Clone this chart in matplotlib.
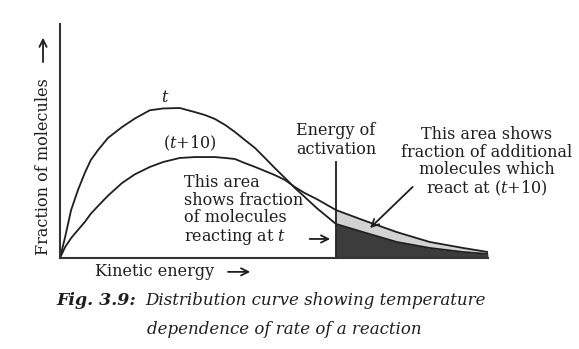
import matplotlib.pyplot as plt

plt.rcParams["font.family"] = "DejaVu Serif"
plt.rcParams["mathtext.fontset"] = "dejavuserif"

# values (arbitrary units)
energy = [0, 1.2, 2.6, 4.2, 5.8, 7.2, 8.9, 11.2, 14.5, 17.5, 21.0, 24.1, 28.0, 31.5, 33.9,
          36.2, 38.6, 40.9, 43.2, 45.6, 47.9, 50.2, 52.6, 54.9, 57.2, 60.0, 64.5, 70.8,
          78.7, 86.4, 94.2, 100]
frac_t = [0, 14.0, 32.0, 45.3, 56.7, 65.3, 72.0, 80.0, 87.3, 93.0, 98.5, 99.7, 100.0, 97.3,
          95.3, 92.7, 88.7, 84.0, 78.7, 73.3, 66.7, 60.0, 53.3, 46.7, 40.7, 33.3, 22.7,
          17.3, 10.7, 6.7, 4.0, 2.7]
frac_t10 = [0, 7.3, 13.3, 18.7, 24.0, 29.5, 34.7, 41.5, 50.0, 55.8, 60.7, 64.0, 66.7, 67.3,
            67.3, 67.3, 66.7, 66.0, 63.3, 60.7, 58.0, 55.3, 52.0, 47.3, 43.3, 39.3, 32.0,
            25.3, 17.3, 10.7, 6.7, 4.0]
e_act = 64.5
e_act_top = 64

ink = "#1e1e1e"

fig = plt.figure(figsize=(5.79, 3.49), dpi=100)
ax = fig.add_axes([0.1036, 0.2607, 0.739, 0.6705])

# shaded tails beyond the activation energy
tail = [i for i, e in enumerate(energy) if e >= e_act]
ex = [energy[i] for i in tail]
ax.fill_between(ex, 0, [frac_t[i] for i in tail], color="#3c3c3c", lw=0)
ax.fill_between(ex, [frac_t[i] for i in tail], [frac_t10[i] for i in tail],
                color="#d2d2d2", lw=0)

ax.plot(energy, frac_t, color=ink, lw=1.3)
ax.plot(energy, frac_t10, color=ink, lw=1.3)
ax.plot([e_act, e_act], [0, e_act_top], color=ink, lw=1.3)

ax.set_xlim(0, 100)
ax.set_ylim(0, 156)
ax.spines["top"].set_visible(False)
ax.spines["right"].set_visible(False)
for s in ("left", "bottom"):
    ax.spines[s].set_color("#333333")
    ax.spines[s].set_linewidth(1.5)
ax.set_xticks([])
ax.set_yticks([])

fs = 11.5
ax.text(24.5, 107, "$t$", fontsize=fs, ha="center", va="center", color=ink)
ax.text(30.4, 76.7, "($t$+10)", fontsize=fs, ha="center", va="center", color=ink)
ax.text(64.5, 78.7, "Energy of\nactivation", fontsize=fs, ha="center",
        va="center", linespacing=1.1, color=ink)
ax.text(99.8, 64, "This area shows\nfraction of additional\nmolecules which\nreact at ($t$+10)",
        fontsize=fs, ha="center", va="center", linespacing=1.05, color=ink)
ax.text(29, 31.7, "This area\nshows fraction\nof molecules\nreacting at $t$",
        fontsize=fs, ha="left", va="center", linespacing=1.05, color=ink)

arrow = dict(arrowstyle="->", color=ink, lw=1.3, mutation_scale=13)
ax.annotate("", xy=(63.8, 12.7), xytext=(57.7, 12.7), arrowprops=arrow)
ax.annotate("", xy=(72, 18.7), xytext=(82.9, 48.7), arrowprops=arrow)

# axis labels with arrows
fig.text(0.0743, 0.523, "Fraction of molecules", rotation=90, fontsize=fs,
         ha="center", va="center", color=ink)
ax.annotate("", xy=(0.0743, 0.90), xytext=(0.0743, 0.814), xycoords="figure fraction",
            textcoords="figure fraction", arrowprops=arrow, annotation_clip=False)
fig.text(0.164, 0.221, "Kinetic energy", fontsize=fs, ha="left", va="center", color=ink)
ax.annotate("", xy=(0.437, 0.221), xytext=(0.389, 0.221), xycoords="figure fraction",
            textcoords="figure fraction", arrowprops=arrow, annotation_clip=False)

# caption
fig.text(0.098, 0.126, "Fig. 3.9:", fontsize=12.5, fontweight="bold", style="italic",
         ha="left", va="baseline", color=ink)
fig.text(0.2504, 0.126, "Distribution curve showing temperature", fontsize=12,
         style="italic", ha="left", va="baseline", color=ink)
fig.text(0.254, 0.043, "dependence of rate of a reaction", fontsize=12,
         style="italic", ha="left", va="baseline", color=ink)

fig.savefig("out.png", dpi=100)
